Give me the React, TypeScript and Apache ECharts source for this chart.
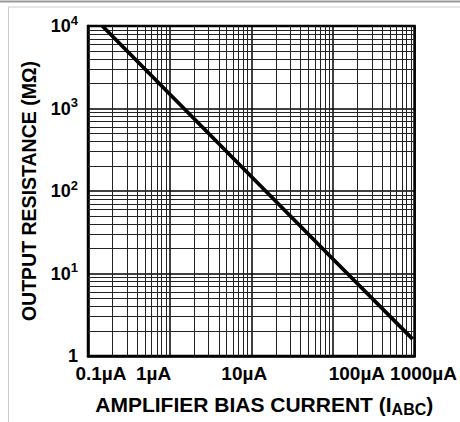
import React, { useEffect, useRef } from "react";
import * as echarts from "echarts";

// Data
const currentUA = [0.15, 1, 10, 100, 950];
const resistanceMOhm = [10000, 1500, 150, 15, 1.6];

const xTickLabels = ["0.1µA", "1µA", "10µA", "100µA", "1000µA"];
const yTickLabels = ["1", "10{s|1}", "10{s|2}", "10{s|3}", "10{s|4}"];

const xDecades = [0.1, 1, 10, 100];
const yDecades = [1, 10, 100, 1000];
const minorMultipliers = [2, 3, 4, 5, 6, 7, 8, 9];

const FONT = "'Liberation Sans', Arial, Helvetica, sans-serif";

export default function App() {
  const ref = useRef<HTMLDivElement>(null);

  useEffect(() => {
    if (!ref.current) return;
    const chart = echarts.init(ref.current, null, { renderer: "svg" });

    const xMinor: number[] = [];
    xDecades.forEach((d) => minorMultipliers.forEach((m) => xMinor.push(+(d * m).toPrecision(6))));
    const yMinor: number[] = [];
    yDecades.forEach((d) => minorMultipliers.forEach((m) => yMinor.push(+(d * m).toPrecision(6))));

    const xShift = [13, -16, -7, 24, 9];
    const xRich: any = {};
    xShift.forEach((s, i) => {
      xRich["p" + i] = {
        fontFamily: FONT,
        fontWeight: "bold",
        fontSize: 19,
        color: "#000",
        padding: s >= 0 ? [0, 0, 0, 2 * s] : [0, -2 * s, 0, 0],
      };
    });

    const lineData = currentUA.map((x, i) => [x, resistanceMOhm[i]]);

    chart.setOption({
      animation: false,
      backgroundColor: "#fff",
      grid: {
        left: 88,
        right: 42,
        top: 26,
        bottom: 65,
        show: true,
        borderColor: "#000",
        borderWidth: 2.5,
      },
      xAxis: {
        type: "log",
        logBase: 10,
        min: 0.1,
        max: 1000,
        name: "{a|AMPLIFIER BIAS CURRENT (I}{sub|ABC}{a|)}",
        nameLocation: "middle",
        nameGap: 35,
        nameTextStyle: {
          padding: [0, 0, 0, 26],
          rich: {
            a: { fontFamily: FONT, fontWeight: "bold", fontSize: 21, color: "#000" },
            sub: { fontFamily: FONT, fontWeight: "bold", fontSize: 16, color: "#000", padding: [10, 0, 0, 0] },
          },
        },
        axisLine: { show: true, lineStyle: { color: "#000", width: 2.5 } },
        axisTick: { show: false },
        splitLine: { show: true, lineStyle: { color: "#000", width: 1.5 } },
        axisLabel: {
          margin: 8,
          formatter: (v: number) => {
            const i = Math.round(Math.log10(v)) + 1;
            return "{p" + i + "|" + xTickLabels[i] + "}";
          },
          rich: xRich,
        },
      },
      yAxis: {
        type: "log",
        logBase: 10,
        min: 1,
        max: 10000,
        name: "OUTPUT RESISTANCE (MΩ)",
        nameLocation: "middle",
        nameGap: 49,
        nameRotate: 90,
        nameTextStyle: { fontFamily: FONT, fontWeight: "bold", fontSize: 19.5, color: "#000" },
        axisLine: { show: true, lineStyle: { color: "#000", width: 2.5 } },
        axisTick: { show: false },
        splitLine: { show: true, lineStyle: { color: "#000", width: 1.5 } },
        axisLabel: {
          margin: 10,
          formatter: (v: number) => {
            const i = Math.round(Math.log10(v));
            const t = yTickLabels[i];
            return t.indexOf("{") >= 0 ? "{m|" + t.replace("{s|", "}{s|") : "{m|" + t + "}";
          },
          rich: {
            m: { fontFamily: FONT, fontWeight: "bold", fontSize: 18, color: "#000" },
            s: { fontFamily: FONT, fontWeight: "bold", fontSize: 13, color: "#000", padding: [0, 0, 12, 0] },
          },
        },
      },
      graphic: [
        { type: "line", shape: { x1: 0, y1: 1.5, x2: 460, y2: 1.5 }, style: { stroke: "#999", lineWidth: 2 }, silent: true },
        { type: "line", shape: { x1: 8, y1: 7, x2: 460, y2: 7 }, style: { stroke: "#ccc", lineWidth: 1 }, silent: true },
        { type: "line", shape: { x1: 8.5, y1: 7, x2: 8.5, y2: 422 }, style: { stroke: "#ccc", lineWidth: 1 }, silent: true },
      ],
      series: [
        {
          type: "line",
          data: lineData,
          symbol: "none",
          silent: true,
          z: 1,
          lineStyle: { opacity: 0, width: 0 },
          markLine: {
            silent: true,
            symbol: ["none", "none"],
            label: { show: false },
            lineStyle: { color: "#222", width: 1, type: "solid" },
            data: [...xMinor.map((v) => ({ xAxis: v })), ...yMinor.map((v) => ({ yAxis: v }))],
          },
        },
        {
          type: "line",
          data: lineData,
          symbol: "none",
          silent: true,
          z: 5,
          lineStyle: { color: "#000", width: 3.8 },
        },
      ],
    });

    return () => chart.dispose();
  }, []);

  return (
    <div
      ref={ref}
      style={{ position: "fixed", left: 0, top: 0, width: 460, height: 422, background: "#fff" }}
    />
  );
}
